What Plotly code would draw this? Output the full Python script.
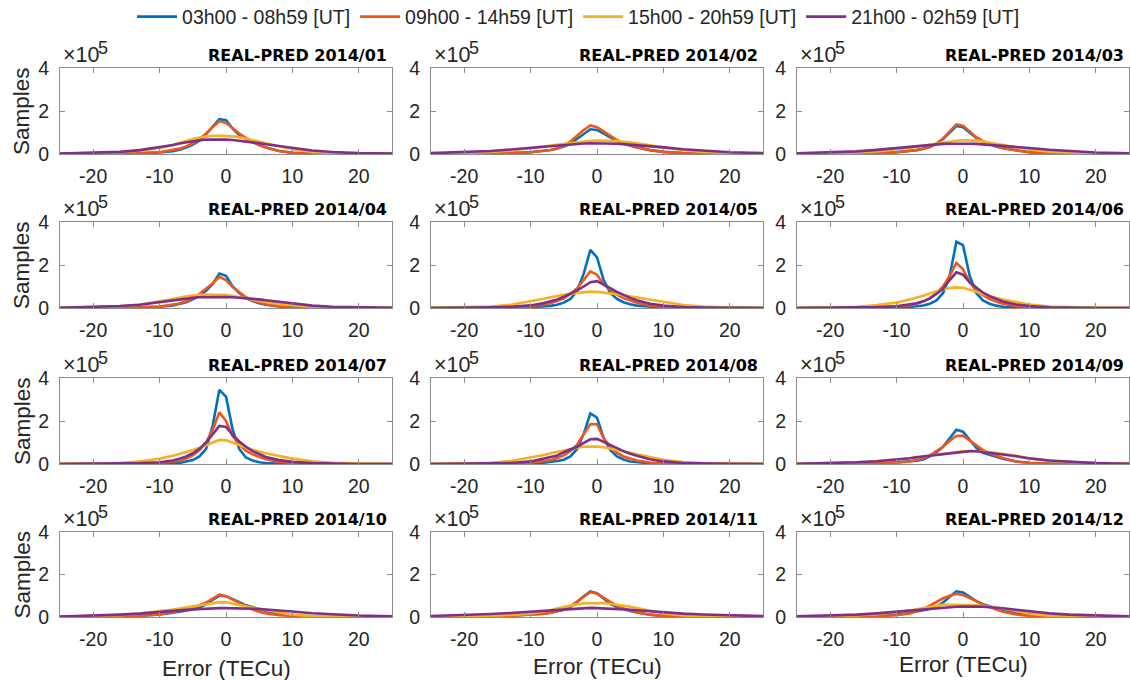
import plotly.graph_objects as go

# Error bins (TECu) shared by every histogram curve
err = [-25, -20, -16, -13, -10, -8, -7, -6, -5, -4, -3, -2, -1, 0, 1, 2, 3, 4, 5, 6, 8, 10, 13, 16, 20, 25]

slot_names = ["03h00 - 08h59 [UT]", "09h00 - 14h59 [UT]", "15h00 - 20h59 [UT]", "21h00 - 02h59 [UT]"]
slot_colors = ["#0072BD", "#F0561A", "#F5B21E", "#7E2F8E"]

# Sample counts per bin, in units of 1e5
ut03_01 = [0.00,0.01,0.02,0.03,0.07,0.13,0.20,0.30,0.44,0.62,0.92,1.28,1.62,1.57,1.18,0.88,0.70,0.55,0.42,0.30,0.14,0.06,0.02,0.01,0.00,0.00]
ut09_01 = [0.00,0.01,0.02,0.04,0.08,0.17,0.25,0.35,0.50,0.70,0.95,1.25,1.52,1.45,1.20,0.95,0.75,0.57,0.42,0.30,0.14,0.06,0.02,0.01,0.00,0.00]
ut15_01 = [0.01,0.03,0.08,0.15,0.28,0.42,0.52,0.62,0.70,0.77,0.82,0.85,0.86,0.85,0.82,0.78,0.72,0.65,0.58,0.50,0.36,0.22,0.10,0.05,0.02,0.01]
ut21_01 = [0.02,0.05,0.10,0.18,0.31,0.42,0.49,0.55,0.60,0.64,0.67,0.68,0.68,0.67,0.65,0.62,0.58,0.54,0.50,0.45,0.36,0.27,0.16,0.09,0.04,0.02]

ut03_02 = [0.00,0.01,0.02,0.04,0.08,0.14,0.19,0.26,0.35,0.48,0.70,0.95,1.15,1.12,0.95,0.75,0.60,0.48,0.38,0.30,0.18,0.10,0.04,0.02,0.01,0.00]
ut09_02 = [0.00,0.01,0.02,0.04,0.08,0.14,0.19,0.26,0.38,0.58,0.85,1.12,1.33,1.25,1.05,0.85,0.65,0.50,0.40,0.31,0.18,0.10,0.04,0.02,0.01,0.00]
ut15_02 = [0.01,0.04,0.09,0.16,0.26,0.34,0.39,0.43,0.47,0.51,0.55,0.58,0.61,0.63,0.63,0.62,0.60,0.57,0.54,0.50,0.40,0.30,0.18,0.10,0.04,0.01]
ut21_02 = [0.04,0.08,0.14,0.21,0.29,0.35,0.38,0.41,0.44,0.46,0.48,0.49,0.50,0.50,0.50,0.49,0.48,0.46,0.44,0.42,0.37,0.31,0.22,0.15,0.08,0.04]

ut03_03 = [0.00,0.01,0.02,0.04,0.08,0.13,0.18,0.24,0.33,0.48,0.70,1.00,1.30,1.25,1.00,0.75,0.58,0.45,0.35,0.27,0.16,0.08,0.03,0.01,0.00,0.00]
ut09_03 = [0.00,0.01,0.02,0.04,0.08,0.13,0.18,0.24,0.33,0.48,0.72,1.05,1.38,1.32,1.05,0.78,0.60,0.46,0.36,0.28,0.16,0.08,0.03,0.01,0.00,0.00]
ut15_03 = [0.01,0.03,0.07,0.12,0.21,0.28,0.33,0.38,0.43,0.48,0.53,0.58,0.62,0.64,0.64,0.62,0.58,0.53,0.47,0.41,0.31,0.21,0.11,0.06,0.02,0.01]
ut21_03 = [0.03,0.07,0.12,0.19,0.28,0.34,0.37,0.40,0.43,0.45,0.47,0.48,0.49,0.49,0.48,0.47,0.45,0.43,0.41,0.38,0.33,0.28,0.20,0.13,0.07,0.03]

ut03_04 = [0.00,0.01,0.02,0.03,0.06,0.12,0.18,0.27,0.40,0.57,0.80,1.12,1.60,1.50,1.00,0.70,0.47,0.32,0.22,0.15,0.07,0.03,0.01,0.00,0.00,0.00]
ut09_04 = [0.00,0.01,0.02,0.03,0.07,0.14,0.21,0.31,0.45,0.65,0.88,1.15,1.45,1.30,0.98,0.72,0.50,0.35,0.25,0.17,0.08,0.04,0.01,0.00,0.00,0.00]
ut15_04 = [0.01,0.03,0.08,0.15,0.30,0.42,0.48,0.54,0.58,0.61,0.62,0.62,0.62,0.60,0.56,0.50,0.44,0.38,0.33,0.28,0.19,0.12,0.05,0.02,0.01,0.00]
ut21_04 = [0.01,0.04,0.09,0.15,0.28,0.36,0.40,0.44,0.47,0.50,0.51,0.52,0.52,0.51,0.50,0.48,0.46,0.43,0.40,0.36,0.28,0.20,0.11,0.06,0.03,0.01]

ut03_05 = [0.00,0.00,0.01,0.02,0.04,0.07,0.10,0.15,0.25,0.42,0.80,1.60,2.70,2.35,1.30,0.70,0.42,0.27,0.17,0.11,0.05,0.02,0.01,0.00,0.00,0.00]
ut09_05 = [0.00,0.00,0.01,0.03,0.07,0.15,0.22,0.32,0.45,0.65,0.92,1.30,1.70,1.55,1.10,0.85,0.62,0.46,0.34,0.24,0.12,0.06,0.02,0.01,0.00,0.00]
ut15_05 = [0.01,0.03,0.07,0.15,0.30,0.43,0.50,0.57,0.62,0.67,0.71,0.74,0.76,0.75,0.72,0.68,0.64,0.59,0.54,0.48,0.38,0.27,0.14,0.07,0.02,0.01]
ut21_05 = [0.00,0.01,0.03,0.06,0.12,0.23,0.30,0.40,0.52,0.66,0.82,1.00,1.20,1.25,1.10,0.92,0.75,0.60,0.47,0.36,0.20,0.11,0.04,0.02,0.01,0.00]

ut03_06 = [0.00,0.00,0.00,0.01,0.02,0.05,0.08,0.12,0.20,0.35,0.70,1.50,3.08,2.92,1.50,0.70,0.35,0.20,0.11,0.06,0.02,0.01,0.00,0.00,0.00,0.00]
ut09_06 = [0.00,0.00,0.01,0.03,0.07,0.13,0.20,0.30,0.45,0.70,1.00,1.50,2.10,1.80,1.20,0.85,0.60,0.42,0.30,0.20,0.09,0.04,0.01,0.00,0.00,0.00]
ut15_06 = [0.00,0.02,0.06,0.14,0.25,0.40,0.48,0.57,0.68,0.78,0.87,0.93,0.96,0.94,0.86,0.76,0.65,0.55,0.47,0.39,0.26,0.16,0.07,0.03,0.01,0.00]
ut21_06 = [0.00,0.01,0.02,0.04,0.08,0.16,0.22,0.31,0.45,0.65,0.90,1.30,1.66,1.55,1.20,0.95,0.72,0.55,0.41,0.30,0.16,0.09,0.03,0.01,0.00,0.00]

ut03_07 = [0.00,0.00,0.00,0.01,0.02,0.03,0.05,0.10,0.18,0.35,0.70,1.80,3.45,3.13,1.60,0.70,0.30,0.16,0.08,0.05,0.02,0.01,0.00,0.00,0.00,0.00]
ut09_07 = [0.00,0.00,0.01,0.02,0.05,0.10,0.15,0.25,0.40,0.65,1.00,1.60,2.40,2.00,1.30,0.90,0.62,0.45,0.32,0.22,0.10,0.05,0.01,0.00,0.00,0.00]
ut15_07 = [0.00,0.02,0.05,0.12,0.25,0.38,0.46,0.55,0.65,0.76,0.88,1.00,1.12,1.10,1.00,0.88,0.76,0.66,0.58,0.50,0.37,0.25,0.13,0.06,0.02,0.00]
ut21_07 = [0.00,0.01,0.02,0.04,0.08,0.16,0.25,0.35,0.50,0.70,1.00,1.40,1.77,1.72,1.35,1.05,0.80,0.60,0.45,0.33,0.18,0.10,0.04,0.01,0.00,0.00]

ut03_08 = [0.00,0.00,0.00,0.01,0.03,0.06,0.09,0.14,0.20,0.35,0.70,1.40,2.35,2.16,1.20,0.65,0.35,0.21,0.12,0.08,0.03,0.01,0.00,0.00,0.00,0.00]
ut09_08 = [0.00,0.00,0.01,0.02,0.06,0.12,0.18,0.28,0.40,0.60,0.90,1.40,1.85,1.85,1.20,0.80,0.52,0.35,0.24,0.16,0.07,0.03,0.01,0.00,0.00,0.00]
ut15_08 = [0.00,0.02,0.06,0.14,0.30,0.42,0.50,0.57,0.65,0.71,0.76,0.80,0.82,0.81,0.78,0.72,0.66,0.60,0.53,0.46,0.33,0.20,0.09,0.04,0.01,0.00]
ut21_08 = [0.00,0.01,0.02,0.05,0.12,0.25,0.32,0.40,0.55,0.66,0.80,0.98,1.15,1.17,1.02,0.90,0.75,0.60,0.48,0.38,0.22,0.12,0.05,0.02,0.01,0.00]

ut03_09 = [0.00,0.01,0.02,0.04,0.08,0.12,0.15,0.21,0.35,0.55,0.80,1.20,1.59,1.50,1.10,0.75,0.52,0.42,0.32,0.24,0.12,0.06,0.02,0.01,0.00,0.00]
ut09_09 = [0.00,0.01,0.02,0.04,0.06,0.12,0.18,0.27,0.40,0.58,0.80,1.08,1.30,1.32,1.10,0.85,0.65,0.50,0.38,0.28,0.12,0.05,0.02,0.01,0.00,0.00]
ut15_09 = [0.01,0.04,0.08,0.13,0.20,0.27,0.31,0.35,0.40,0.44,0.48,0.52,0.56,0.59,0.60,0.60,0.58,0.56,0.52,0.48,0.38,0.27,0.15,0.09,0.04,0.01]
ut21_09 = [0.01,0.04,0.08,0.13,0.20,0.27,0.31,0.35,0.39,0.43,0.47,0.51,0.55,0.58,0.60,0.59,0.56,0.52,0.48,0.44,0.36,0.26,0.16,0.10,0.04,0.01]

ut03_10 = [0.00,0.01,0.03,0.06,0.12,0.20,0.24,0.28,0.35,0.45,0.60,0.82,1.00,0.98,0.85,0.70,0.55,0.45,0.36,0.28,0.15,0.07,0.02,0.01,0.00,0.00]
ut09_10 = [0.00,0.01,0.03,0.06,0.12,0.22,0.30,0.38,0.46,0.55,0.68,0.87,1.05,0.98,0.82,0.65,0.48,0.35,0.25,0.17,0.08,0.04,0.01,0.00,0.00,0.00]
ut15_10 = [0.01,0.04,0.09,0.16,0.26,0.35,0.40,0.45,0.50,0.56,0.62,0.67,0.70,0.69,0.64,0.58,0.51,0.44,0.38,0.32,0.20,0.11,0.04,0.02,0.01,0.00]
ut21_10 = [0.02,0.06,0.11,0.16,0.22,0.28,0.31,0.34,0.36,0.38,0.40,0.41,0.42,0.42,0.42,0.41,0.40,0.39,0.38,0.36,0.31,0.26,0.18,0.13,0.07,0.03]

ut03_11 = [0.00,0.01,0.03,0.06,0.10,0.16,0.20,0.26,0.34,0.48,0.70,0.97,1.20,1.12,0.85,0.62,0.47,0.37,0.28,0.21,0.11,0.05,0.02,0.01,0.00,0.00]
ut09_11 = [0.00,0.01,0.03,0.06,0.10,0.16,0.20,0.26,0.35,0.50,0.72,0.97,1.18,1.10,0.90,0.70,0.52,0.40,0.30,0.22,0.11,0.05,0.02,0.01,0.00,0.00]
ut15_11 = [0.01,0.03,0.06,0.10,0.16,0.26,0.32,0.39,0.47,0.54,0.60,0.64,0.66,0.66,0.65,0.62,0.58,0.53,0.48,0.42,0.29,0.17,0.07,0.03,0.01,0.00]
ut21_11 = [0.05,0.09,0.14,0.19,0.25,0.30,0.33,0.35,0.38,0.40,0.42,0.43,0.43,0.42,0.41,0.40,0.38,0.36,0.34,0.32,0.27,0.22,0.16,0.12,0.07,0.04]

ut03_12 = [0.00,0.01,0.03,0.06,0.12,0.20,0.25,0.31,0.38,0.48,0.68,0.95,1.21,1.15,0.95,0.75,0.60,0.50,0.40,0.32,0.18,0.09,0.03,0.01,0.00,0.00]
ut09_12 = [0.00,0.01,0.02,0.04,0.08,0.17,0.27,0.38,0.53,0.70,0.88,1.00,1.09,1.03,0.90,0.75,0.58,0.45,0.35,0.25,0.12,0.05,0.02,0.01,0.00,0.00]
ut15_12 = [0.01,0.03,0.07,0.13,0.22,0.31,0.36,0.42,0.48,0.54,0.57,0.58,0.58,0.58,0.57,0.55,0.52,0.49,0.45,0.40,0.28,0.16,0.06,0.03,0.01,0.00]
ut21_12 = [0.03,0.06,0.11,0.17,0.25,0.31,0.34,0.37,0.40,0.43,0.45,0.47,0.48,0.49,0.50,0.49,0.48,0.46,0.44,0.41,0.34,0.26,0.17,0.11,0.06,0.03]

month_labels = ["2014/01", "2014/02", "2014/03", "2014/04", "2014/05", "2014/06",
                "2014/07", "2014/08", "2014/09", "2014/10", "2014/11", "2014/12"]
month_series = [
    [ut03_01, ut09_01, ut15_01, ut21_01],
    [ut03_02, ut09_02, ut15_02, ut21_02],
    [ut03_03, ut09_03, ut15_03, ut21_03],
    [ut03_04, ut09_04, ut15_04, ut21_04],
    [ut03_05, ut09_05, ut15_05, ut21_05],
    [ut03_06, ut09_06, ut15_06, ut21_06],
    [ut03_07, ut09_07, ut15_07, ut21_07],
    [ut03_08, ut09_08, ut15_08, ut21_08],
    [ut03_09, ut09_09, ut15_09, ut21_09],
    [ut03_10, ut09_10, ut15_10, ut21_10],
    [ut03_11, ut09_11, ut15_11, ut21_11],
    [ut03_12, ut09_12, ut15_12, ut21_12],
]

x_ticks = [-20, -10, 0, 10, 20]
x_tick_text = ["-20", "-10", "0", "10", "20"]
y_ticks = [0, 2, 4]

# ---- page geometry (pixels) ----
W, H = 1130, 680
col_px = [(60, 392), (431, 763), (797, 1129)]
row_px = [(68, 154), (222, 308), (378, 464), (532, 617)]
xtitle_y = [668, 666, 664]

def px_x(p):
    return p / W

def px_y(p):
    return 1 - p / H

SANS = "Liberation Sans, Arial, sans-serif"
TICK_FONT = dict(family=SANS, size=19.5, color="#262626")
FRAME = "#8c8c8c"

fig = go.Figure()
layout = dict(
    width=W, height=H,
    margin=dict(l=0, r=0, t=0, b=0, pad=0, autoexpand=False),
    paper_bgcolor="white", plot_bgcolor="white",
    font=TICK_FONT,
    showlegend=True,
    legend=dict(orientation="h", x=0.512, xanchor="center", y=px_y(17), yanchor="middle",
                font=dict(family=SANS, size=19.5, color="#262626"),
                itemwidth=40, tracegroupgap=0, bgcolor="rgba(0,0,0,0)"),
)
annotations = []

for m, (label, series) in enumerate(zip(month_labels, month_series)):
    r, c = divmod(m, 3)
    k = m + 1
    xa = "x" if k == 1 else f"x{k}"
    ya = "y" if k == 1 else f"y{k}"
    for s, vals in enumerate(series):
        fig.add_trace(go.Scatter(
            x=err, y=vals, mode="lines", xaxis=xa, yaxis=ya,
            name=slot_names[s], legendgroup=slot_names[s], showlegend=(m == 0),
            line=dict(color=slot_colors[s], width=2.6),
            hoverinfo="skip",
        ))
    x0, x1 = col_px[c]
    y0, y1 = row_px[r]
    axis_common = dict(showline=True, mirror="ticks", linecolor=FRAME, linewidth=1,
                       ticks="inside", ticklen=5, tickcolor=FRAME, tickwidth=1,
                       showgrid=False, zeroline=False, fixedrange=True, tickfont=TICK_FONT)
    layout["xaxis" if k == 1 else f"xaxis{k}"] = dict(
        axis_common, domain=[px_x(x0), px_x(x1)], range=[-25, 25],
        tickvals=x_ticks, ticktext=x_tick_text, anchor=ya, ticklabelstandoff=5)
    layout["yaxis" if k == 1 else f"yaxis{k}"] = dict(
        axis_common, domain=[px_y(y1), px_y(y0)], range=[0, 4],
        tickvals=y_ticks, anchor=xa, ticklabelstandoff=6)

    # panel title, right-aligned above the frame
    annotations.append(dict(
        text=f"REAL-PRED {label}", xref="paper", yref="paper",
        x=px_x(x1 - 3), y=px_y(y0 - 1), xanchor="right", yanchor="bottom",
        showarrow=False, font=dict(family="DejaVu Sans, sans-serif", size=16, color="#000000", weight="bold"),
    ))
    # axis exponent marker: "×10" with a full-size raised "5"
    annotations.append(dict(
        text="×10", xref="paper", yref="paper",
        x=px_x(x0 + 1), y=px_y(y0 - 13), xanchor="left", yanchor="middle",
        showarrow=False, font=dict(family=SANS, size=21.5, color="#262626"),
    ))
    annotations.append(dict(
        text="5", xref="paper", yref="paper",
        x=px_x(x0 + 36), y=px_y(y0 - 20), xanchor="left", yanchor="middle",
        showarrow=False, font=dict(family=SANS, size=18, color="#262626"),
    ))
    if c == 0:
        annotations.append(dict(
            text="Samples", xref="paper", yref="paper", textangle=-90,
            x=px_x(22), y=px_y((y0 + y1) / 2), xanchor="center", yanchor="middle",
            showarrow=False, font=dict(family=SANS, size=22.5, color="#262626"),
        ))
    if r == 3:
        annotations.append(dict(
            text="Error (TECu)", xref="paper", yref="paper",
            x=px_x((x0 + x1) / 2), y=px_y(xtitle_y[c]), xanchor="center", yanchor="middle",
            showarrow=False, font=dict(family=SANS, size=22.5, color="#262626"),
        ))

layout["annotations"] = annotations
fig.update_layout(**layout)
fig.write_html("out.html")
